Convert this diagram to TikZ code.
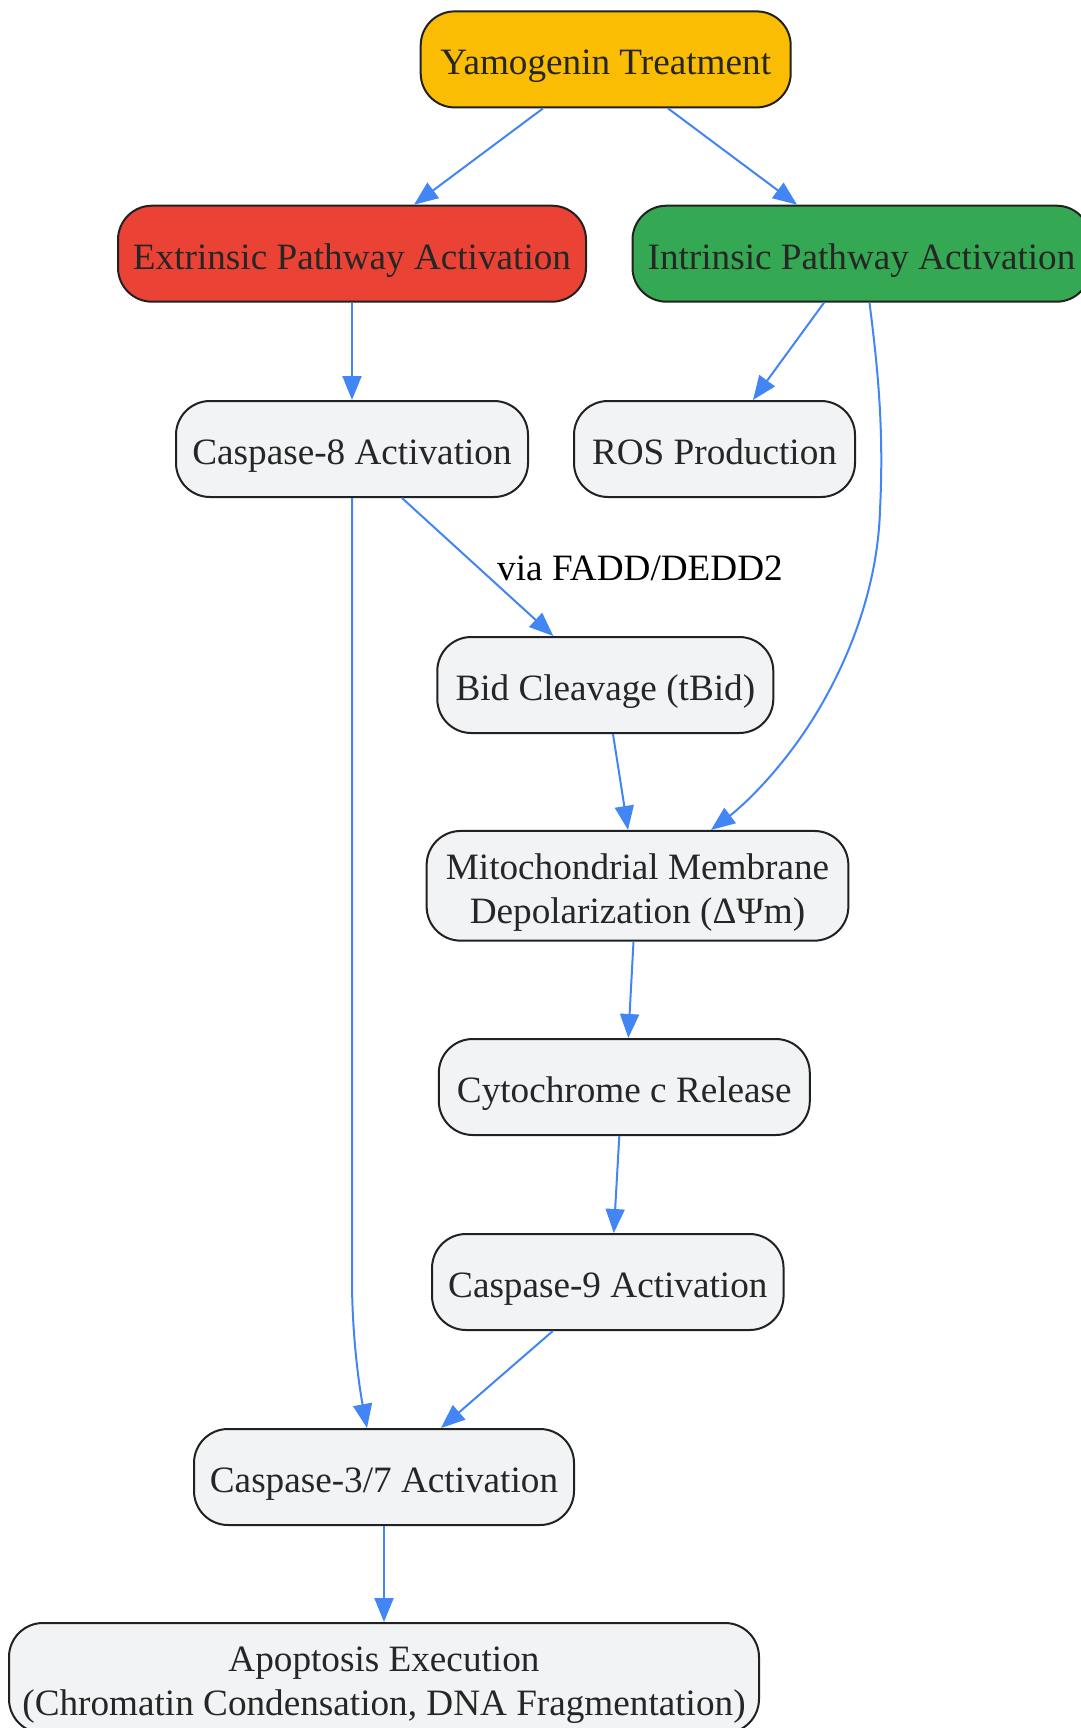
\documentclass[tikz,border=0pt]{standalone}
\usepackage{fontspec}
\setmainfont{Liberation Serif}
\usetikzlibrary{arrows.meta}
\definecolor{ylw}{HTML}{FBBC04}
\definecolor{redp}{HTML}{EA4335}
\definecolor{grnp}{HTML}{34A853}
\definecolor{boxg}{HTML}{F1F3F4}
\definecolor{edgeb}{HTML}{4285F4}
\definecolor{bord}{HTML}{212121}
\definecolor{txt}{HTML}{262626}
\tikzset{
  box/.style={draw=bord, line width=2pt, rounded corners=34pt, fill=boxg,
    text=txt, inner sep=0pt, align=center, minimum height=96pt,
    text height=31.2pt, text depth=0pt,
    font=\fontsize{37.2pt}{44pt}\selectfont},
  twoline/.style={text height=75pt, text depth=0pt, minimum height=110pt},
  conn/.style={draw=edgeb, line width=2pt,
    -{Triangle[length=24pt,width=19pt]}},
  lbl/.style={text=black, inner sep=0pt, font=\fontsize{37.2pt}{44pt}\selectfont}
}
\begin{document}
\begin{tikzpicture}[x=1pt,y=-1pt]
\useasboundingbox (0,0) rectangle (1080,1728);
\fill[white] (0,0) rectangle (1080,1728);

\node[box, fill=ylw, minimum width=370pt] (yamo) at (605.7,59.4) {Yamogenin Treatment};
\node[box, fill=redp, minimum width=468pt] (ext) at (352,253.7) {Extrinsic Pathway Activation};
\node[box, fill=grnp, minimum width=458pt] (intr) at (861.5,253.7) {Intrinsic Pathway Activation};
\node[box, minimum width=352pt] (cas8) at (352,449) {Caspase-8 Activation};
\node[box, minimum width=281pt] (ros) at (714.5,449) {ROS Production};
\node[box, minimum width=336pt] (bid) at (605.3,685) {Bid Cleavage (tBid)};
\node[box, twoline, minimum width=421.7pt, minimum height=109.7pt] (mito) at (637.5,885.8) {Mitochondrial Membrane\\Depolarization (ΔΨm)};
\node[box, minimum width=371pt] (cyto) at (624.3,1087) {Cytochrome c Release};
\node[box, minimum width=351.5pt] (cas9) at (607.8,1282) {Caspase-9 Activation};
\node[box, minimum width=380pt] (cas37) at (384,1477) {Caspase-3/7 Activation};
\node[box, twoline, minimum width=750pt] (apo) at (384,1678) {Apoptosis Execution\\(Chromatin Condensation, DNA Fragmentation)};

\node[lbl] (via) at (640,568) {via FADD/DEDD2};

\draw[conn] ([xshift=-62.7pt]yamo.south) -- ([xshift=62pt]ext.north);
\draw[conn] ([xshift=62.3pt]yamo.south) -- ([xshift=-64.5pt]intr.north);
\draw[conn] (ext.south) -- (cas8.north);
\draw[conn] ([xshift=-37.5pt]intr.south) -- ([xshift=38.5pt]ros.north);
\draw[conn] ([xshift=8pt]intr.south) .. controls (878,370) and (884,430) .. (880,510)
   .. controls (877,610) and (830,700) .. (790,752)
   .. controls (765,785) and (740,808) .. ([xshift=73.5pt]mito.north);
\draw[conn] ([xshift=50pt]cas8.south) -- ([xshift=-52pt]bid.north);
\draw[conn] (cas8.south) -- (352,1280) .. controls (352,1330) and (358,1380) .. ([xshift=-17pt]cas37.north);
\draw[conn] ([xshift=7.7pt]bid.south) -- ([xshift=-9.5pt]mito.north);
\draw[conn] ([xshift=-4pt]mito.south) -- ([xshift=4pt]cyto.north);
\draw[conn] ([xshift=-5pt]cyto.south) -- ([xshift=6pt]cas9.north);
\draw[conn] ([xshift=-55pt]cas9.south) -- ([xshift=57pt]cas37.north);
\draw[conn] (cas37.south) -- (apo.north);
\end{tikzpicture}
\end{document}
